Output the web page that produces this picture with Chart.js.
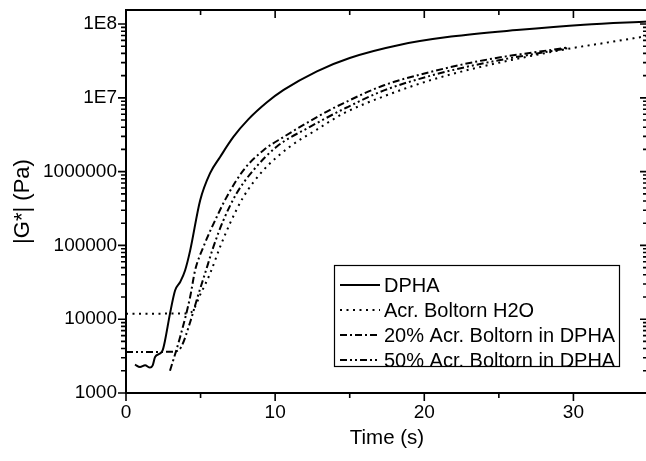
<!DOCTYPE html>
<html>
<head>
<meta charset="utf-8">
<script src="https://cdn.jsdelivr.net/npm/chart.js@4.4.0/dist/chart.umd.min.js"></script>
<style>
  html, body { margin: 0; padding: 0; background: #fff; overflow: hidden; }
  #wrap { width: 651px; height: 461px; }
</style>
</head>
<body>
<div id="wrap"><canvas id="chart" width="651" height="461"></canvas></div>
<script>
// values (time in s, |G*| in Pa)
const timeDPHA = [0.6, 0.94, 1.28, 1.61, 1.79, 1.95, 2.28, 2.46, 2.62, 2.95, 3.29, 3.63, 3.96, 4.3, 4.97, 5.64, 6.31, 7.2, 8.2, 9.45, 10.57, 12.8, 15.0, 18.4, 21.8, 26.2, 30.7, 35];
const gDPHA = [2430, 2250, 2370, 2210, 2370, 3080, 3420, 3800, 5180, 11900, 24500, 31900, 45800, 85000, 407000, 955000, 1.58e6, 2.95e6, 5.1e6, 8.7e6, 1.28e7, 2.29e7, 3.47e7, 5.25e7, 6.76e7, 8.3e7, 9.8e7, 1.08e8];

const timeH2O = [0, 2, 4.0, 4.4, 5.0, 5.64, 6.31, 6.98, 7.88, 9.22, 11.0, 12.8, 14.6, 17.3, 20.6, 24.0, 29.6, 32.0, 35];
const gH2O = [11900, 11900, 11950, 12500, 22000, 41700, 95500, 200000, 457000, 1.05e6, 2.19e6, 3.72e6, 6.17e6, 1.05e7, 1.78e7, 2.69e7, 4.6e7, 5.5e7, 6.9e7];

const time20 = [2.95, 3.63, 4.3, 4.63, 5.19, 6.09, 6.76, 7.88, 9.22, 10.57, 13.25, 14.6, 17.3, 20.6, 24.0, 29.6];
const g20 = [2000, 5750, 20000, 45700, 95500, 245000, 457000, 1.05e6, 1.95e6, 2.95e6, 6.17e6, 8.5e6, 1.48e7, 2.29e7, 3.24e7, 4.8e7];

const time50 = [0, 1.5, 3.0, 3.4, 3.7, 4.3, 4.8, 5.3, 5.86, 6.53, 7.43, 8.55, 10.12, 12.36, 14.8, 17.3, 20.6, 24.0, 29.6];
const g50 = [3600, 3600, 3620, 3700, 4200, 9100, 20000, 41700, 95500, 219000, 513000, 1.05e6, 2.19e6, 4.07e6, 7.4e6, 1.26e7, 2.04e7, 2.95e7, 4.7e7];

const seriesNames = ['DPHA', 'Acr. Boltorn H2O', '20% Acr. Boltorn in DPHA', '50% Acr. Boltorn in DPHA'];
const xTicks = [0, 10, 20, 30];
const yTicks = [1e3, 1e4, 1e5, 1e6, 1e7, 1e8];

const FONT = '"Liberation Sans", Arial, Helvetica, sans-serif';

function pairs(ts, gs) {
  return ts.map((t, i) => ({ x: t, y: gs[i] }));
}

function yLabel(v) {
  const e = Math.round(Math.log10(v));
  return e >= 7 ? '1E' + e : String(Math.round(v));
}

// box, minor/major ticks on all four sides
const frameTicks = {
  id: 'frameTicks',
  afterDraw(chart) {
    const { ctx, chartArea: a, scales: { x, y } } = chart;
    ctx.save();
    ctx.strokeStyle = '#000';
    ctx.lineWidth = 2;
    ctx.strokeRect(a.left, a.top, a.right - a.left, a.bottom - a.top);
    ctx.lineWidth = 1.6;
    ctx.beginPath();
    for (let e = 3; e <= 8; e++) {
      for (let m = 1; m <= 9; m++) {
        const v = m * Math.pow(10, e);
        if (v > y.max) break;
        const py = y.getPixelForValue(v);
        const len = m === 1 ? 8 : 5;
        ctx.moveTo(a.left - len, py); ctx.lineTo(a.left, py);
        ctx.moveTo(a.right, py); ctx.lineTo(a.right - len, py);
      }
    }
    for (let v = 0; v <= x.max; v += 5) {
      const px = x.getPixelForValue(v);
      const len = v % 10 === 0 ? 8 : 5;
      ctx.moveTo(px, a.bottom); ctx.lineTo(px, a.bottom + len);
      ctx.moveTo(px, a.top); ctx.lineTo(px, a.top + len);
    }
    ctx.stroke();
    ctx.restore();
  }
};

// legend box inside the plot
const boxLegend = {
  id: 'boxLegend',
  afterDraw(chart) {
    const { ctx, chartArea: a } = chart;
    const left = a.left + 208, top = a.top + 255, w = 285, h = 101;
    ctx.save();
    ctx.fillStyle = '#fff';
    ctx.fillRect(left, top, w, h);
    ctx.strokeStyle = '#000';
    ctx.lineWidth = 1.2;
    ctx.strokeRect(left + 0.5, top + 0.5, w, h);
    ctx.font = '20px ' + FONT;
    ctx.fillStyle = '#000';
    ctx.textBaseline = 'middle';
    chart.data.datasets.forEach((ds, i) => {
      const cy = top + 20 + i * 25;
      ctx.beginPath();
      ctx.setLineDash(ds.borderDash || []);
      ctx.lineWidth = ds.borderWidth;
      ctx.moveTo(left + 6, cy);
      ctx.lineTo(left + 46, cy);
      ctx.stroke();
      ctx.setLineDash([]);
      ctx.fillText(ds.label, left + 50, cy + 1);
    });
    ctx.restore();
  }
};

const lineStyle = {
  borderColor: '#000',
  borderWidth: 2,
  pointRadius: 0,
  fill: false,
  showLine: true,
  cubicInterpolationMode: 'monotone'
};

new Chart(document.getElementById('chart'), {
  type: 'line',
  data: {
    datasets: [
      { ...lineStyle, label: seriesNames[0], data: pairs(timeDPHA, gDPHA) },
      { ...lineStyle, label: seriesNames[1], data: pairs(timeH2O, gH2O), borderDash: [2, 4.5] },
      { ...lineStyle, label: seriesNames[2], data: pairs(time20, g20), borderDash: [7, 3, 2, 3] },
      { ...lineStyle, label: seriesNames[3], data: pairs(time50, g50), borderDash: [7, 3, 2, 3, 2, 3] }
    ]
  },
  options: {
    responsive: false,
    animation: false,
    devicePixelRatio: 1,
    layout: { padding: { top: 10, right: 3, bottom: 0, left: 0 } },
    plugins: { legend: { display: false }, tooltip: { enabled: false } },
    scales: {
      x: {
        type: 'linear',
        min: 0,
        max: 35,
        afterBuildTicks: s => { s.ticks = xTicks.map(v => ({ value: v })); },
        afterFit: s => { s.height = 68; s.paddingLeft = 0; s.paddingRight = 0; },
        grid: { display: false, drawTicks: false },
        border: { display: false },
        ticks: { color: '#000', font: { family: FONT, size: 19 }, padding: 8, maxRotation: 0, autoSkip: false },
        title: { display: true, text: 'Time (s)', color: '#000', font: { family: FONT, size: 20.5 }, padding: { top: 0, bottom: 10 } }
      },
      y: {
        type: 'logarithmic',
        min: 1000,
        max: 1.55e8,
        afterBuildTicks: s => { s.ticks = yTicks.map(v => ({ value: v })); },
        afterFit: s => { s.width = 126; s.paddingTop = 0; s.paddingBottom = 0; },
        grid: { display: false, drawTicks: false },
        border: { display: false },
        ticks: { color: '#000', font: { family: FONT, size: 19 }, padding: 9, autoSkip: false, callback: v => yLabel(v) },
        title: { display: true, text: '|G*| (Pa)', color: '#000', font: { family: FONT, size: 22 }, padding: { top: 10, bottom: 0 } }
      }
    }
  },
  plugins: [frameTicks, boxLegend]
});
</script>
</body>
</html>
